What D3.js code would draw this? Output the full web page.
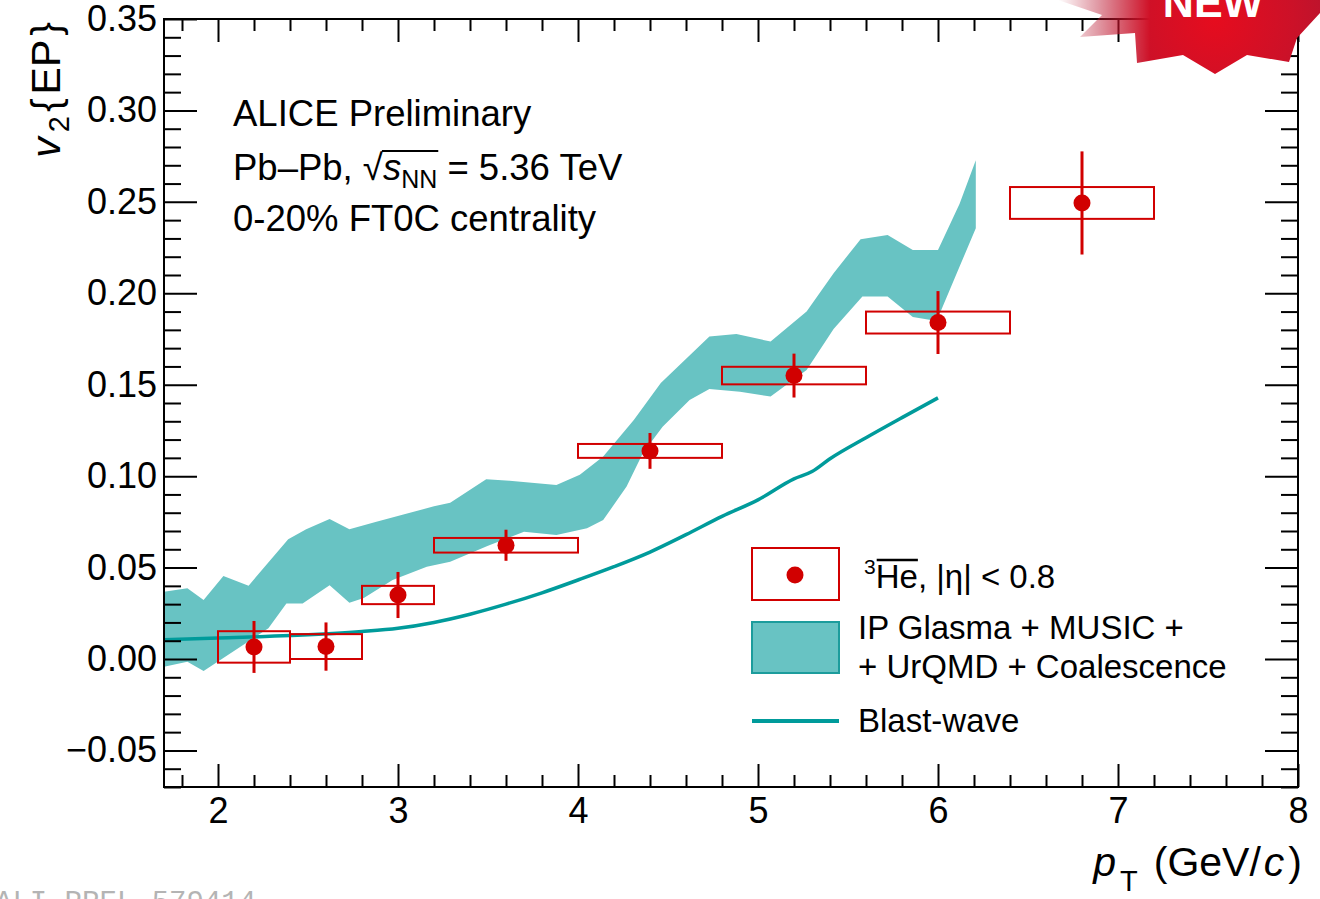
<!DOCTYPE html>
<html>
<head>
<meta charset="utf-8">
<script src="https://cdn.jsdelivr.net/npm/d3@7"></script>
<style>
  html, body { margin: 0; padding: 0; background: #fff; }
  svg { display: block; font-family: "Liberation Sans", Arial, Helvetica, sans-serif; }
</style>
</head>
<body>
<svg id="chart" width="1320" height="899"></svg>
<script>
// ---- Measured 3He-bar v2{EP} in Pb-Pb 0-20% ----
const ptCenters = [2.2, 2.6, 3.0, 3.6, 4.4, 5.2, 6.0, 6.8];
const ptLow     = [2.0, 2.4, 2.8, 3.2, 4.0, 4.8, 5.6, 6.4];
const ptHigh    = [2.4, 2.8, 3.2, 4.0, 4.8, 5.6, 6.4, 7.2];
const v2Values  = [0.0066, 0.0068, 0.0350, 0.0622, 0.1138, 0.1550, 0.1840, 0.2494];
const v2Stat    = [0.0142, 0.0132, 0.0126, 0.0085, 0.0098, 0.0120, 0.0172, 0.0282];
const v2Syst    = [0.0086, 0.0068, 0.0050, 0.0040, 0.0038, 0.0048, 0.0060, 0.0087];

// ---- IP Glasma + MUSIC + UrQMD + Coalescence band edges ----
const bandUpperPt = [1.70, 1.83, 1.92, 2.03, 2.17, 2.39, 2.49, 2.62, 2.73, 2.88, 3.03, 3.20, 3.29,
                     3.49, 3.62, 3.88, 4.01, 4.14, 4.31, 4.46, 4.73, 4.88, 5.07, 5.27, 5.42,
                     5.57, 5.72, 5.86, 6.00, 6.12, 6.21];
const bandUpperV2 = [0.0368, 0.0387, 0.0323, 0.0454, 0.0401, 0.0655, 0.0709, 0.0766, 0.0709, 0.0751,
                     0.0790, 0.0835, 0.0855, 0.0983, 0.0975, 0.0952, 0.1007, 0.1107, 0.1307, 0.1510,
                     0.1763, 0.1778, 0.1736, 0.1900, 0.2110, 0.2296, 0.2319, 0.2237, 0.2237, 0.2490,
                     0.2727];
const bandLowerPt = [1.70, 1.83, 1.92, 2.28, 2.38, 2.47, 2.62, 2.73, 2.81, 2.97, 3.16, 3.29, 3.50,
                     3.70, 3.88, 4.05, 4.14, 4.27, 4.36, 4.47, 4.62, 4.73, 4.90, 5.07, 5.27,
                     5.42, 5.58, 5.72, 5.86, 5.96, 6.01, 6.12, 6.21];
const bandLowerV2 = [-0.0042, -0.0015, -0.0066, 0.0168, 0.0304, 0.0304, 0.0403, 0.0308, 0.0333, 0.0432,
                     0.0505, 0.0532, 0.0620, 0.0696, 0.0678, 0.0715, 0.0760, 0.0943, 0.1125, 0.1270,
                     0.1417, 0.1477, 0.1462, 0.1435, 0.1580, 0.1805, 0.1982, 0.1982, 0.1870, 0.1854,
                     0.1890, 0.2146, 0.2356];

// ---- Blast-wave prediction ----
const bwPt = [1.7, 2.0, 2.4, 2.8, 3.0, 3.2, 3.4, 3.6, 3.8, 4.0, 4.2, 4.4, 4.6, 4.8, 5.0, 5.2, 5.3, 5.4, 5.6, 5.8, 6.0];
const bwV2 = [0.0105, 0.0115, 0.0128, 0.0150, 0.0168, 0.0200, 0.0245, 0.0300, 0.0362, 0.0432, 0.0505,
              0.0585, 0.0680, 0.0780, 0.0870, 0.0985, 0.1025, 0.1095, 0.1210, 0.1320, 0.1428];

// ---- Axis ticks ----
const xTickValues = [2, 3, 4, 5, 6, 7, 8];
const yTickValues = [-0.05, 0.00, 0.05, 0.10, 0.15, 0.20, 0.25, 0.30, 0.35];

(function draw() {
const RED = "#d10000";
const BAND = "#68c3c3";
const BAND_EDGE = "#1c9c9c";
const BW = "#009b9b";
const TICK_FONT = 36;
const TEXT_FONT = 36.5;

const svg = d3.select("#chart");
const pLeft = 164, pRight = 1298, pTop = 19, pBottom = 787;

const x = d3.scaleLinear().domain([1.7, 8]).range([pLeft, pRight]);
const y = d3.scaleLinear().domain([-0.07, 0.35]).range([pBottom, pTop]);

const defs = svg.append("defs");
defs.append("clipPath").attr("id", "plotClip")
  .append("rect").attr("x", pLeft).attr("y", pTop).attr("width", pRight - pLeft).attr("height", pBottom - pTop);

// ---- theory band ----
const upperPts = bandUpperPt.map((p, i) => [x(p), y(bandUpperV2[i])]);
const lowerPts = bandLowerPt.map((p, i) => [x(p), y(bandLowerV2[i])]).reverse();
svg.append("path")
  .attr("clip-path", "url(#plotClip)")
  .attr("d", d3.line()(upperPts.concat(lowerPts)) + "Z")
  .attr("fill", BAND);

// ---- blast-wave curve ----
svg.append("path")
  .attr("clip-path", "url(#plotClip)")
  .attr("d", d3.line().x((d, i) => x(bwPt[i])).y(d => y(d)).curve(d3.curveMonotoneX)(bwV2))
  .attr("fill", "none").attr("stroke", BW).attr("stroke-width", 3.5);

// ---- data: systematic boxes, stat bars, markers ----
const data = ptCenters.map((p, i) => ({ p, lo: ptLow[i], hi: ptHigh[i], v: v2Values[i], st: v2Stat[i], sy: v2Syst[i] }));
const gData = svg.append("g");
gData.selectAll("rect.syst").data(data).join("rect")
  .attr("x", d => x(d.lo)).attr("width", d => x(d.hi) - x(d.lo))
  .attr("y", d => y(d.v + d.sy)).attr("height", d => y(d.v - d.sy) - y(d.v + d.sy))
  .attr("fill", "none").attr("stroke", RED).attr("stroke-width", 2);
gData.selectAll("line.stat").data(data).join("line")
  .attr("x1", d => x(d.p)).attr("x2", d => x(d.p))
  .attr("y1", d => y(d.v + d.st)).attr("y2", d => y(d.v - d.st))
  .attr("stroke", RED).attr("stroke-width", 3);
gData.selectAll("circle").data(data).join("circle")
  .attr("cx", d => x(d.p)).attr("cy", d => y(d.v)).attr("r", 8.5)
  .attr("fill", RED);

// ---- axes (ticks pointing inward, mirrored on top/right) ----
function styleAxis(g) {
  g.select(".domain").remove();
  g.selectAll(".tick line").attr("stroke", "#000").attr("stroke-width", 2);
  g.selectAll(".tick text").attr("fill", "#000").style("font-size", TICK_FONT + "px")
    .style("font-family", "'Liberation Sans', Arial, Helvetica, sans-serif");
}
const xMinor = d3.range(1.8, 8.001, 0.2).filter(v => Math.abs(v - Math.round(v)) > 1e-6);
const yMinor = d3.range(-0.07, 0.3501, 0.01).filter(v => Math.abs(v / 0.05 - Math.round(v / 0.05)) > 1e-6);

svg.append("g").attr("transform", `translate(0,${pBottom})`)
  .call(d3.axisBottom(x).tickValues(xTickValues).tickFormat(d3.format("d")).tickSize(-23).tickPadding(10))
  .call(styleAxis);
svg.append("g").attr("transform", `translate(0,${pBottom})`)
  .call(d3.axisBottom(x).tickValues(xMinor).tickFormat("").tickSize(-12))
  .call(styleAxis);
svg.append("g").attr("transform", `translate(0,${pTop})`)
  .call(d3.axisTop(x).tickValues(xTickValues).tickFormat("").tickSize(-23))
  .call(styleAxis);
svg.append("g").attr("transform", `translate(0,${pTop})`)
  .call(d3.axisTop(x).tickValues(xMinor).tickFormat("").tickSize(-12))
  .call(styleAxis);

svg.append("g").attr("transform", `translate(${pLeft},0)`)
  .call(d3.axisLeft(y).tickValues(yTickValues).tickFormat(d3.format(".2f")).tickSize(-33).tickPadding(7))
  .call(styleAxis);
svg.append("g").attr("transform", `translate(${pLeft},0)`)
  .call(d3.axisLeft(y).tickValues(yMinor).tickFormat("").tickSize(-17))
  .call(styleAxis);
svg.append("g").attr("transform", `translate(${pRight},0)`)
  .call(d3.axisRight(y).tickValues(yTickValues).tickFormat("").tickSize(-33))
  .call(styleAxis);
svg.append("g").attr("transform", `translate(${pRight},0)`)
  .call(d3.axisRight(y).tickValues(yMinor).tickFormat("").tickSize(-17))
  .call(styleAxis);

// frame
svg.append("rect").attr("x", pLeft).attr("y", pTop).attr("width", pRight - pLeft).attr("height", pBottom - pTop)
  .attr("fill", "none").attr("stroke", "#000").attr("stroke-width", 2);

// ---- axis titles ----
const xt = svg.append("text").attr("x", 1302).attr("y", 876).attr("text-anchor", "end")
  .style("font-size", "41px").attr("fill", "#000");
xt.append("tspan").text("p").style("font-style", "italic");
xt.append("tspan").text("T").style("font-size", "29px").attr("dy", 15).attr("dx", 4);
xt.append("tspan").text("(GeV/").attr("dy", -15).attr("dx", 16);
xt.append("tspan").text("c").style("font-style", "italic").attr("dx", 3);
xt.append("tspan").text(")").attr("dx", 4);

const yt = svg.append("text").attr("transform", "translate(60,22) rotate(-90)").attr("text-anchor", "end")
  .style("font-size", "41px").attr("fill", "#000");
yt.append("tspan").text("v").style("font-style", "italic");
yt.append("tspan").text("2").style("font-size", "29px").attr("dy", 9).attr("dx", 5);
yt.append("tspan").text("{").attr("dy", -9).attr("dx", 4);
yt.append("tspan").text("EP").attr("dx", 4);
yt.append("tspan").text("}").attr("dx", 4);

// ---- header text ----
const hdr = svg.append("g").style("font-size", TEXT_FONT + "px").attr("fill", "#000");
hdr.append("text").attr("x", 233).attr("y", 126).text("ALICE Preliminary");
const l2 = hdr.append("text").attr("x", 233).attr("y", 180);
l2.append("tspan").text("Pb–Pb, √");
l2.append("tspan").text("s").style("font-style", "italic");
l2.append("tspan").text("NN").style("font-size", "25px").attr("dy", 8);
l2.append("tspan").text(" = 5.36 TeV").attr("dy", -8);
hdr.append("text").attr("x", 233).attr("y", 231).text("0-20% FT0C centrality");
{
  const n = l2.node();
  const root = n.getExtentOfChar(7), nEnd = n.getExtentOfChar(10);
  svg.append("line").attr("x1", root.x + root.width - 1).attr("x2", nEnd.x + nEnd.width + 1)
    .attr("y1", root.y + 4).attr("y2", root.y + 4).attr("stroke", "#000").attr("stroke-width", 2);
}

// ---- legend ----
const lg = svg.append("g");
lg.append("rect").attr("x", 752).attr("y", 548).attr("width", 87).attr("height", 52)
  .attr("fill", "none").attr("stroke", RED).attr("stroke-width", 2);
lg.append("circle").attr("cx", 795).attr("cy", 575).attr("r", 8.5).attr("fill", RED);
const lt1 = lg.append("text").attr("x", 864).attr("y", 588).style("font-size", "33px").attr("fill", "#000");
lt1.append("tspan").text("3").style("font-size", "21px").attr("dy", -14);
lt1.append("tspan").text("He").attr("dy", 14);
lt1.append("tspan").text(", |η| < 0.8");
{
  const n = lt1.node();
  const h = n.getExtentOfChar(1), e = n.getExtentOfChar(2);
  lg.append("line").attr("x1", h.x + 1).attr("x2", e.x + e.width)
    .attr("y1", 560).attr("y2", 560).attr("stroke", "#000").attr("stroke-width", 2.5);
}
lg.append("rect").attr("x", 752).attr("y", 622).attr("width", 87).attr("height", 51)
  .attr("fill", BAND).attr("stroke", BAND_EDGE).attr("stroke-width", 2);
lg.append("text").attr("x", 858).attr("y", 639).style("font-size", "33px").text("IP Glasma + MUSIC +");
lg.append("text").attr("x", 858).attr("y", 678).style("font-size", "33px").text("+ UrQMD + Coalescence");
lg.append("line").attr("x1", 752).attr("x2", 839).attr("y1", 721).attr("y2", 721)
  .attr("stroke", BW).attr("stroke-width", 4);
lg.append("text").attr("x", 858).attr("y", 732).style("font-size", "33px").text("Blast-wave");

// ---- "NEW" badge in the corner ----
const rg = defs.append("radialGradient").attr("id", "badgeFill").attr("gradientUnits", "userSpaceOnUse")
  .attr("cx", 1215).attr("cy", 20).attr("r", 120);
rg.append("stop").attr("offset", 0).attr("stop-color", "#e60c1e");
rg.append("stop").attr("offset", 0.65).attr("stop-color", "#cc1128");
rg.append("stop").attr("offset", 1).attr("stop-color", "#b8142e");
const lgm = defs.append("linearGradient").attr("id", "badgeFade").attr("gradientUnits", "userSpaceOnUse")
  .attr("x1", 1058).attr("x2", 1150).attr("y1", 0).attr("y2", 0);
lgm.append("stop").attr("offset", 0).attr("stop-color", "#000");
lgm.append("stop").attr("offset", 1).attr("stop-color", "#fff");
defs.append("mask").attr("id", "badgeMask").attr("maskUnits", "userSpaceOnUse")
  .attr("x", 1000).attr("y", 0).attr("width", 320).attr("height", 100)
  .append("rect").attr("x", 1000).attr("y", 0).attr("width", 320).attr("height", 100).attr("fill", "url(#badgeFade)");
svg.append("polygon")
  .attr("points", "1058,0 1102,15 1080,37 1135,33 1137,63 1183,55 1215,74 1247,55 1289,62 1297,38 1320,13 1320,0")
  .attr("fill", "url(#badgeFill)").attr("mask", "url(#badgeMask)");
svg.append("text").attr("x", 1213).attr("y", 17).attr("text-anchor", "middle")
  .style("font-size", "43px").style("font-weight", "bold").attr("fill", "#fff").text("NEW");

// ---- figure id ----
svg.append("text").attr("x", -5).attr("y", 911)
  .style("font-family", "'Liberation Mono', 'DejaVu Sans Mono', monospace").style("font-size", "29px")
  .attr("fill", "#b4b4b4").text("ALI-PREL-579414");
})();
</script>
</body>
</html>
